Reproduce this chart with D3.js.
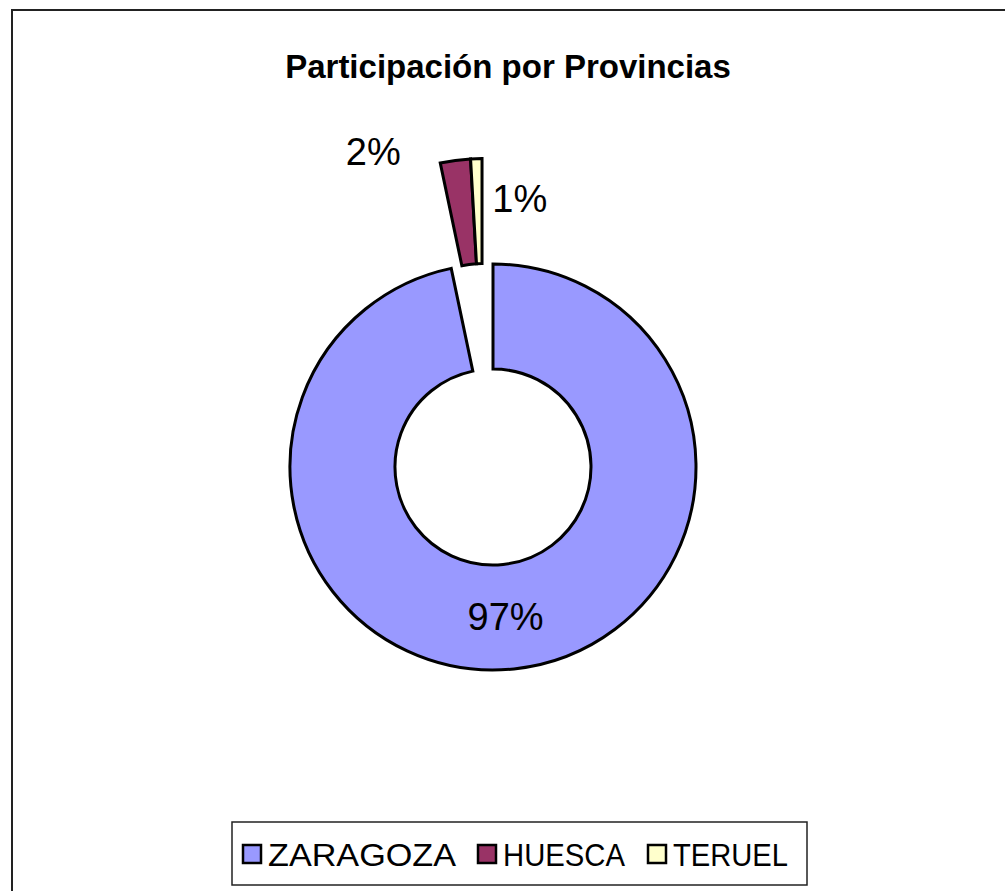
<!DOCTYPE html>
<html>
<meta charset="utf-8">
<head>
  <script src="https://d3js.org/d3.v7.min.js"></script>
  <style>
  body { margin: 0; background: #fff; }
  svg { display: block; font-family: "Liberation Sans", Arial, sans-serif; }
  .title { font-size: 33px; font-weight: bold; }
  .pct { font-size: 38px; }
  .legend text { font-size: 32px; }
  </style>
</head>
<body>
<div id="chart"></div>
<script>

var title = "Participación por Provincias"
var provincias = ["ZARAGOZA", "HUESCA", "TERUEL"]
var valores = [96.7, 2.4, 0.9]
var etiquetas = ["97%", "2%", "1%"]
var colores = ["#9999ff", "#993366", "#ffffcc"]
var separado = [false, true, true]   // exploded slices

var width = 1005, height = 891
var cx = 493, cy = 467,
    rOut = 203, rIn = 98,
    explode = 106

var svg = d3.select("#chart").append("svg")
    .attr("width", width)
    .attr("height", height)

// outer frame (runs off the right / bottom of the picture)
svg.append("rect")
    .attr("x", 12).attr("y", 10)
    .attr("width", width).attr("height", height)
    .attr("fill", "none").attr("stroke", "#222").attr("stroke-width", 2)

svg.append("text")
    .attr("class", "title")
    .attr("x", 508).attr("y", 78)
    .attr("text-anchor", "middle")
    .text(title)

var data = provincias.map(function(p, i) {
  return {name: p, value: valores[i], label: etiquetas[i], color: colores[i], out: separado[i]}
})

var pie = d3.pie().sort(null).value(function(d) { return d.value })
var arcs = pie(data)

var arc = d3.arc().innerRadius(rIn).outerRadius(rOut)

// exploded slices move together along their common mid angle
var outArcs = arcs.filter(function(a) { return a.data.out })
var midOut = (d3.min(outArcs, function(a) { return a.startAngle }) +
              d3.max(outArcs, function(a) { return a.endAngle })) / 2
var off = [explode * Math.sin(midOut), -explode * Math.cos(midOut)]

function shift(a) { return a.data.out ? off : [0, 0] }

var g = svg.append("g").attr("transform", "translate(" + cx + "," + cy + ")")

g.selectAll("path.slice").data(arcs)
  .enter().append("path")
    .attr("class", "slice")
    .attr("d", arc)
    .attr("transform", function(a) { var s = shift(a); return "translate(" + s[0] + "," + s[1] + ")" })
    .attr("fill", function(a) { return a.data.color })
    .attr("stroke", "#000")
    .attr("stroke-width", 3)
    .attr("stroke-linejoin", "miter")

// label nudges from the slice centroid
var nudge = [[-3, 0], [-89, -60], [42, -12]]

g.selectAll("text.pct").data(arcs)
  .enter().append("text")
    .attr("class", "pct")
    .attr("text-anchor", "middle")
    .attr("dominant-baseline", "central")
    .attr("x", function(a, i) { return arc.centroid(a)[0] + shift(a)[0] + nudge[i][0] })
    .attr("y", function(a, i) { return arc.centroid(a)[1] + shift(a)[1] + nudge[i][1] })
    .text(function(a) { return a.data.label })

// legend
var legend = svg.append("g").attr("class", "legend")
legend.append("rect")
    .attr("x", 232).attr("y", 822)
    .attr("width", 575).attr("height", 63)
    .attr("fill", "#fff").attr("stroke", "#222").attr("stroke-width", 1.5)

var legX = [243, 478, 648]
var item = legend.selectAll("g.item").data(data)
  .enter().append("g")
    .attr("class", "item")
    .attr("transform", function(d, i) { return "translate(" + legX[i] + ",845)" })

item.append("rect")
    .attr("width", 18).attr("height", 18)
    .attr("fill", function(d) { return d.color })
    .attr("stroke", "#000").attr("stroke-width", 2.5)

item.append("text")
    .attr("x", 25).attr("y", 21)
    .attr("textLength", function(d, i) { return [188, 122, 115][i] })
    .attr("lengthAdjust", "spacingAndGlyphs")
    .text(function(d) { return d.name })

</script>
</body>
</html>
